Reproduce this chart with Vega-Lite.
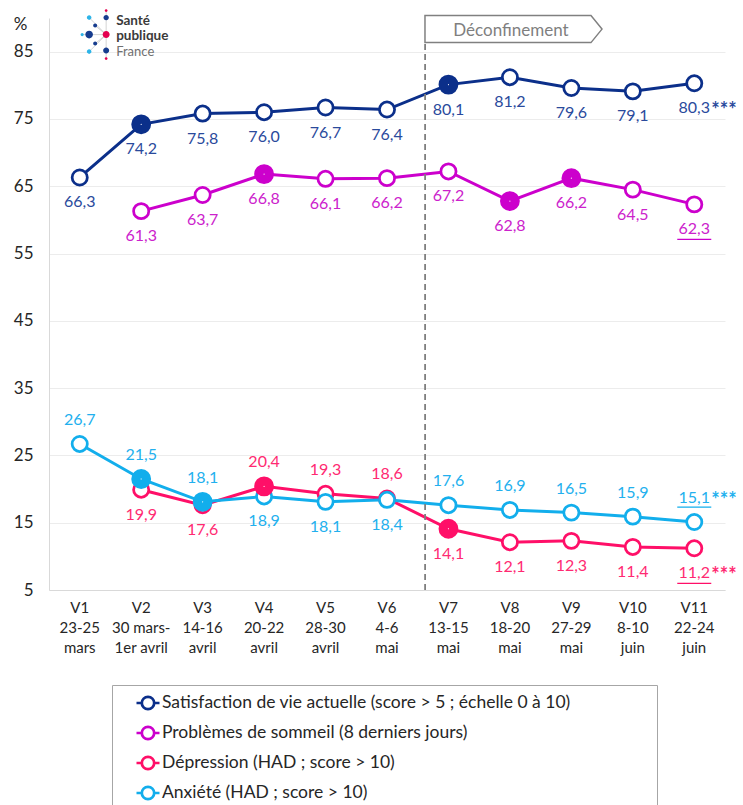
{
  "$schema": "https://vega.github.io/schema/vega-lite/v6.json",
  "width": 676,
  "height": 572,
  "autosize": {"type": "none"},
  "padding": {"left": 49, "top": 18, "right": 18, "bottom": 215},
  "background": "white",
  "config": {"view": {"stroke": null}, "font": "Lato"},
  "layer": [
    {
      "data": {
        "values": [
          {"indicateur": "Satisfaction de vie actuelle (score > 5 ; échelle 0 à 10)", "vague": "V1", "valeur": 66.3, "sig": false, "note": ""},
          {"indicateur": "Satisfaction de vie actuelle (score > 5 ; échelle 0 à 10)", "vague": "V2", "valeur": 74.2, "sig": true, "note": ""},
          {"indicateur": "Satisfaction de vie actuelle (score > 5 ; échelle 0 à 10)", "vague": "V3", "valeur": 75.8, "sig": false, "note": ""},
          {"indicateur": "Satisfaction de vie actuelle (score > 5 ; échelle 0 à 10)", "vague": "V4", "valeur": 76.0, "sig": false, "note": ""},
          {"indicateur": "Satisfaction de vie actuelle (score > 5 ; échelle 0 à 10)", "vague": "V5", "valeur": 76.7, "sig": false, "note": ""},
          {"indicateur": "Satisfaction de vie actuelle (score > 5 ; échelle 0 à 10)", "vague": "V6", "valeur": 76.4, "sig": false, "note": ""},
          {"indicateur": "Satisfaction de vie actuelle (score > 5 ; échelle 0 à 10)", "vague": "V7", "valeur": 80.1, "sig": true, "note": ""},
          {"indicateur": "Satisfaction de vie actuelle (score > 5 ; échelle 0 à 10)", "vague": "V8", "valeur": 81.2, "sig": false, "note": ""},
          {"indicateur": "Satisfaction de vie actuelle (score > 5 ; échelle 0 à 10)", "vague": "V9", "valeur": 79.6, "sig": false, "note": ""},
          {"indicateur": "Satisfaction de vie actuelle (score > 5 ; échelle 0 à 10)", "vague": "V10", "valeur": 79.1, "sig": false, "note": ""},
          {"indicateur": "Satisfaction de vie actuelle (score > 5 ; échelle 0 à 10)", "vague": "V11", "valeur": 80.3, "sig": false, "note": "***"},
          {"indicateur": "Problèmes de sommeil (8 derniers jours)", "vague": "V2", "valeur": 61.3, "sig": false, "note": ""},
          {"indicateur": "Problèmes de sommeil (8 derniers jours)", "vague": "V3", "valeur": 63.7, "sig": false, "note": ""},
          {"indicateur": "Problèmes de sommeil (8 derniers jours)", "vague": "V4", "valeur": 66.8, "sig": true, "note": ""},
          {"indicateur": "Problèmes de sommeil (8 derniers jours)", "vague": "V5", "valeur": 66.1, "sig": false, "note": ""},
          {"indicateur": "Problèmes de sommeil (8 derniers jours)", "vague": "V6", "valeur": 66.2, "sig": false, "note": ""},
          {"indicateur": "Problèmes de sommeil (8 derniers jours)", "vague": "V7", "valeur": 67.2, "sig": false, "note": ""},
          {"indicateur": "Problèmes de sommeil (8 derniers jours)", "vague": "V8", "valeur": 62.8, "sig": true, "note": ""},
          {"indicateur": "Problèmes de sommeil (8 derniers jours)", "vague": "V9", "valeur": 66.2, "sig": true, "note": ""},
          {"indicateur": "Problèmes de sommeil (8 derniers jours)", "vague": "V10", "valeur": 64.5, "sig": false, "note": ""},
          {"indicateur": "Problèmes de sommeil (8 derniers jours)", "vague": "V11", "valeur": 62.3, "sig": false, "note": ""},
          {"indicateur": "Dépression (HAD ; score > 10)", "vague": "V2", "valeur": 19.9, "sig": false, "note": ""},
          {"indicateur": "Dépression (HAD ; score > 10)", "vague": "V3", "valeur": 17.6, "sig": false, "note": ""},
          {"indicateur": "Dépression (HAD ; score > 10)", "vague": "V4", "valeur": 20.4, "sig": true, "note": ""},
          {"indicateur": "Dépression (HAD ; score > 10)", "vague": "V5", "valeur": 19.3, "sig": false, "note": ""},
          {"indicateur": "Dépression (HAD ; score > 10)", "vague": "V6", "valeur": 18.6, "sig": false, "note": ""},
          {"indicateur": "Dépression (HAD ; score > 10)", "vague": "V7", "valeur": 14.1, "sig": true, "note": ""},
          {"indicateur": "Dépression (HAD ; score > 10)", "vague": "V8", "valeur": 12.1, "sig": false, "note": ""},
          {"indicateur": "Dépression (HAD ; score > 10)", "vague": "V9", "valeur": 12.3, "sig": false, "note": ""},
          {"indicateur": "Dépression (HAD ; score > 10)", "vague": "V10", "valeur": 11.4, "sig": false, "note": ""},
          {"indicateur": "Dépression (HAD ; score > 10)", "vague": "V11", "valeur": 11.2, "sig": false, "note": "***"},
          {"indicateur": "Anxiété (HAD ; score > 10)", "vague": "V1", "valeur": 26.7, "sig": false, "note": ""},
          {"indicateur": "Anxiété (HAD ; score > 10)", "vague": "V2", "valeur": 21.5, "sig": true, "note": ""},
          {"indicateur": "Anxiété (HAD ; score > 10)", "vague": "V3", "valeur": 18.1, "sig": true, "note": ""},
          {"indicateur": "Anxiété (HAD ; score > 10)", "vague": "V4", "valeur": 18.9, "sig": false, "note": ""},
          {"indicateur": "Anxiété (HAD ; score > 10)", "vague": "V5", "valeur": 18.1, "sig": false, "note": ""},
          {"indicateur": "Anxiété (HAD ; score > 10)", "vague": "V6", "valeur": 18.4, "sig": false, "note": ""},
          {"indicateur": "Anxiété (HAD ; score > 10)", "vague": "V7", "valeur": 17.6, "sig": false, "note": ""},
          {"indicateur": "Anxiété (HAD ; score > 10)", "vague": "V8", "valeur": 16.9, "sig": false, "note": ""},
          {"indicateur": "Anxiété (HAD ; score > 10)", "vague": "V9", "valeur": 16.5, "sig": false, "note": ""},
          {"indicateur": "Anxiété (HAD ; score > 10)", "vague": "V10", "valeur": 15.9, "sig": false, "note": ""},
          {"indicateur": "Anxiété (HAD ; score > 10)", "vague": "V11", "valeur": 15.1, "sig": false, "note": "***"}
        ]
      },
      "transform": [
        {"calculate": "replace(format(datum.valeur, '.1f'), '.', ',')", "as": "lab"},
        {"calculate": "(indexof(datum.indicateur, 'Dépression') == 0 && indexof(['V4','V5','V6'], datum.vague) >= 0) || (indexof(datum.indicateur, 'Anxiété') == 0 && indexof(['V4','V5','V6'], datum.vague) < 0)", "as": "dessus"}
      ],
      "encoding": {
        "x": {
          "field": "vague",
          "type": "ordinal",
          "bandPosition": 0.5,
          "scale": {"type": "band", "paddingInner": 0, "paddingOuter": 0, "domain": ["V1","V2","V3","V4","V5","V6","V7","V8","V9","V10","V11"]},
          "axis": {
            "title": null,
            "labelExpr": "{'V1':['V1','23-25','mars'],'V2':['V2','30 mars-','1er avril'],'V3':['V3','14-16','avril'],'V4':['V4','20-22','avril'],'V5':['V5','28-30','avril'],'V6':['V6','4-6','mai'],'V7':['V7','13-15','mai'],'V8':['V8','18-20','mai'],'V9':['V9','27-29','mai'],'V10':['V10','8-10','juin'],'V11':['V11','22-24','juin']}[datum.value]",
            "labelAngle": 0,
            "labelFont": "Lato",
            "labelFontSize": 15,
            "labelLineHeight": 20,
            "labelColor": "#262626",
            "labelPadding": 10,
            "ticks": false,
            "grid": false,
            "domainColor": "#D9D9D9",
            "domainWidth": 1
          }
        },
        "y": {
          "field": "valeur",
          "type": "quantitative",
          "scale": {"domain": [5, 90], "nice": false, "zero": false},
          "axis": {
            "title": "%",
            "titleAngle": 0,
            "titleX": -29,
            "titleY": 6,
            "titleAlign": "center",
            "titleBaseline": "middle",
            "titleFont": "Lato",
            "titleFontSize": 17,
            "titleFontWeight": "normal",
            "titleColor": "#262626",
            "values": [5, 15, 25, 35, 45, 55, 65, 75, 85],
            "labelFont": "Lato",
            "labelFontSize": 17,
            "labelColor": "#262626",
            "labelPadding": 16,
            "ticks": false,
            "domainColor": "#D9D9D9",
            "gridColor": "#ECECEC"
          }
        }
      },
      "layer": [
        {
          "mark": {"type": "line", "strokeWidth": 3},
          "encoding": {
            "stroke": {
              "field": "indicateur",
              "type": "nominal",
              "scale": {
                "domain": ["Satisfaction de vie actuelle (score > 5 ; échelle 0 à 10)", "Problèmes de sommeil (8 derniers jours)", "Dépression (HAD ; score > 10)", "Anxiété (HAD ; score > 10)"],
                "range": ["#0B2F8A", "#CC00CC", "#FF0F68", "#12AEEC"]
              },
              "legend": {
                "orient": "none",
                "legendX": 63,
                "legendY": 667,
                "direction": "vertical",
                "title": " ",
                "titleOrient": "right",
                "titlePadding": 81,
                "symbolType": "M-1,0H-0.55M0.55,0H1M-0.55,0A0.55,0.55 0 1,0 0.55,0A0.55,0.55 0 1,0 -0.55,0ZM-0.53,0A0.53,0.53 0 1,1 0.53,0A0.53,0.53 0 1,1 -0.53,0Z",
                "symbolSize": 529,
                "symbolStrokeWidth": 2.5,
                "symbolFillColor": "white",
                "symbolOffset": 18,
                "labelFont": "Lato",
                "labelFontSize": 17.5,
                "labelColor": "#262626",
                "labelLimit": 0,
                "labelOffset": 1,
                "padding": 5,
                "rowPadding": 5,
                "strokeColor": "#A6A6A6",
                "fillColor": "white",
                "encode": {"symbols": {"update": {"fill": {"value": "white"}, "strokeWidth": {"value": 2.5}, "opacity": {"value": 1}}}}
              }
            }
          }
        },
        {
          "transform": [{"filter": "!datum.sig"}],
          "mark": {"type": "point", "shape": "circle", "filled": false, "fill": "white", "size": 230, "strokeWidth": 2.75, "opacity": 1},
          "encoding": {
            "color": {
              "field": "indicateur",
              "type": "nominal",
              "scale": {
                "domain": ["Satisfaction de vie actuelle (score > 5 ; échelle 0 à 10)", "Problèmes de sommeil (8 derniers jours)", "Dépression (HAD ; score > 10)", "Anxiété (HAD ; score > 10)"],
                "range": ["#0B2F8A", "#CC00CC", "#FF0F68", "#12AEEC"]
              },
              "legend": null
            }
          }
        },
        {
          "transform": [{"filter": "datum.sig"}],
          "mark": {"type": "point", "shape": "circle", "filled": false, "fill": "white", "size": 87, "strokeWidth": 10.5, "opacity": 1},
          "encoding": {
            "color": {"field": "indicateur", "type": "nominal", "legend": null}
          }
        },
        {
          "transform": [{"filter": "!datum.dessus"}],
          "mark": {"type": "text", "font": "Lato", "fontSize": 16, "dy": 25, "baseline": "middle", "align": "center"},
          "encoding": {
            "text": {"field": "lab"},
            "fill": {
              "field": "indicateur",
              "type": "nominal",
              "scale": {
                "domain": ["Satisfaction de vie actuelle (score > 5 ; échelle 0 à 10)", "Problèmes de sommeil (8 derniers jours)", "Dépression (HAD ; score > 10)", "Anxiété (HAD ; score > 10)"],
                "range": ["#2A4A9C", "#CC22CC", "#FF2A72", "#22B0EE"]
              },
              "legend": null
            }
          }
        },
        {
          "transform": [{"filter": "datum.dessus"}],
          "mark": {"type": "text", "font": "Lato", "fontSize": 16, "dy": -24, "baseline": "middle", "align": "center"},
          "encoding": {
            "text": {"field": "lab"},
            "fill": {"field": "indicateur", "type": "nominal", "legend": null}
          }
        },
        {
          "transform": [{"filter": "datum.note != '' && !datum.dessus"}],
          "mark": {"type": "text", "font": "Lato", "fontSize": 20, "fontWeight": "bold", "dx": 17, "dy": 28, "baseline": "middle", "align": "left"},
          "encoding": {
            "text": {"field": "note"},
            "fill": {"field": "indicateur", "type": "nominal", "legend": null}
          }
        },
        {
          "transform": [{"filter": "datum.note != '' && datum.dessus"}],
          "mark": {"type": "text", "font": "Lato", "fontSize": 20, "fontWeight": "bold", "dx": 17, "dy": -21, "baseline": "middle", "align": "left"},
          "encoding": {
            "text": {"field": "note"},
            "fill": {"field": "indicateur", "type": "nominal", "legend": null}
          }
        },
        {
          "transform": [{"filter": "datum.vague == 'V11' && indexof(datum.indicateur, 'Satisfaction') < 0 && !datum.dessus"}],
          "mark": {"type": "point", "shape": "M-17,35H17", "size": 4, "filled": false, "strokeWidth": 1.3, "opacity": 1},
          "encoding": {
            "color": {"field": "indicateur", "type": "nominal", "legend": null}
          }
        },
        {
          "transform": [{"filter": "datum.vague == 'V11' && indexof(datum.indicateur, 'Satisfaction') < 0 && datum.dessus"}],
          "mark": {"type": "point", "shape": "M-17,-15H17", "size": 4, "filled": false, "strokeWidth": 1.3, "opacity": 1},
          "encoding": {
            "color": {"field": "indicateur", "type": "nominal", "legend": null}
          }
        }
      ]
    },
    {
      "data": {"values": [{"annotation": "Déconfinement"}]},
      "layer": [
        {
          "mark": {"type": "rule", "strokeDash": [6, 4], "color": "#7F7F7F", "strokeWidth": 1.8},
          "encoding": {
            "x": {"datum": "V7", "type": "ordinal", "bandPosition": 0.12},
            "y": {"datum": 5, "type": "quantitative"},
            "y2": {"datum": 86.3}
          }
        },
        {
          "mark": {"type": "point", "shape": "M-88,-13.5H78L89,0L78,13.5H-88Z", "size": 4, "filled": true, "fill": "white", "stroke": "#808080", "strokeWidth": 1.5, "opacity": 1},
          "encoding": {
            "x": {"datum": "V8", "type": "ordinal", "bandPosition": 0.55},
            "y": {"datum": 88.35, "type": "quantitative"}
          }
        },
        {
          "mark": {"type": "text", "font": "Lato", "fontSize": 17, "color": "#7F7F7F", "dx": -2, "dy": 1.5, "baseline": "middle", "align": "center"},
          "encoding": {
            "x": {"datum": "V8", "type": "ordinal", "bandPosition": 0.55},
            "y": {"datum": 88.35, "type": "quantitative"},
            "text": {"field": "annotation"}
          }
        }
      ]
    },
    {
      "data": {"values": [{"logo": "Santé publique France"}]},
      "encoding": {
        "x": {"datum": "V1", "type": "ordinal", "bandPosition": 0.93},
        "y": {"datum": 87.53, "type": "quantitative"}
      },
      "layer": [
        {"mark": {"type": "point", "shape": "M0,-24L0,24M-11,-9L0,0L-11,9M-24,0L0,0M-17,-17L0,0L-17,17", "size": 4, "filled": false, "stroke": "#C8C8C8", "strokeWidth": 0.8, "opacity": 1}},
        {"mark": {"type": "point", "shape": "M-2.7,-17a2.7,2.7 0 1,0 5.4,0a2.7,2.7 0 1,0 -5.4,0M-13,-9a2,2 0 1,0 4,0a2,2 0 1,0 -4,0M-20.8,0a3.8,3.8 0 1,0 7.6,0a3.8,3.8 0 1,0 -7.6,0M-13,9a2,2 0 1,0 4,0a2,2 0 1,0 -4,0M-3,16a3,3 0 1,0 6,0a3,3 0 1,0 -6,0", "size": 4, "filled": true, "fill": "#163C8E", "strokeWidth": 0, "opacity": 1}},
        {"mark": {"type": "point", "shape": "M-1.4,-24a1.4,1.4 0 1,0 2.8,0a1.4,1.4 0 1,0 -2.8,0M-3.5,0a3.5,3.5 0 1,0 7,0a3.5,3.5 0 1,0 -7,0M-1.4,24a1.4,1.4 0 1,0 2.8,0a1.4,1.4 0 1,0 -2.8,0", "size": 4, "filled": true, "fill": "#E4004F", "strokeWidth": 0, "opacity": 1}},
        {"mark": {"type": "point", "shape": "M-19.3,-17a2.3,2.3 0 1,0 4.6,0a2.3,2.3 0 1,0 -4.6,0M-25.6,0a1.6,1.6 0 1,0 3.2,0a1.6,1.6 0 1,0 -3.2,0M-19.3,17a2.3,2.3 0 1,0 4.6,0a2.3,2.3 0 1,0 -4.6,0", "size": 4, "filled": true, "fill": "#2DB4E8", "strokeWidth": 0, "opacity": 1}},
        {"mark": {"type": "text", "text": ["Santé", "publique"], "lineHeight": 14.5, "font": "Lato", "fontSize": 13.5, "fontWeight": "bold", "color": "#3A3A3A", "align": "left", "baseline": "middle", "dx": 10, "dy": -13.5}},
        {"mark": {"type": "text", "text": "France", "font": "Lato", "fontSize": 13, "color": "#707070", "align": "left", "baseline": "middle", "dx": 10, "dy": 17}}
      ]
    }
  ]
}
